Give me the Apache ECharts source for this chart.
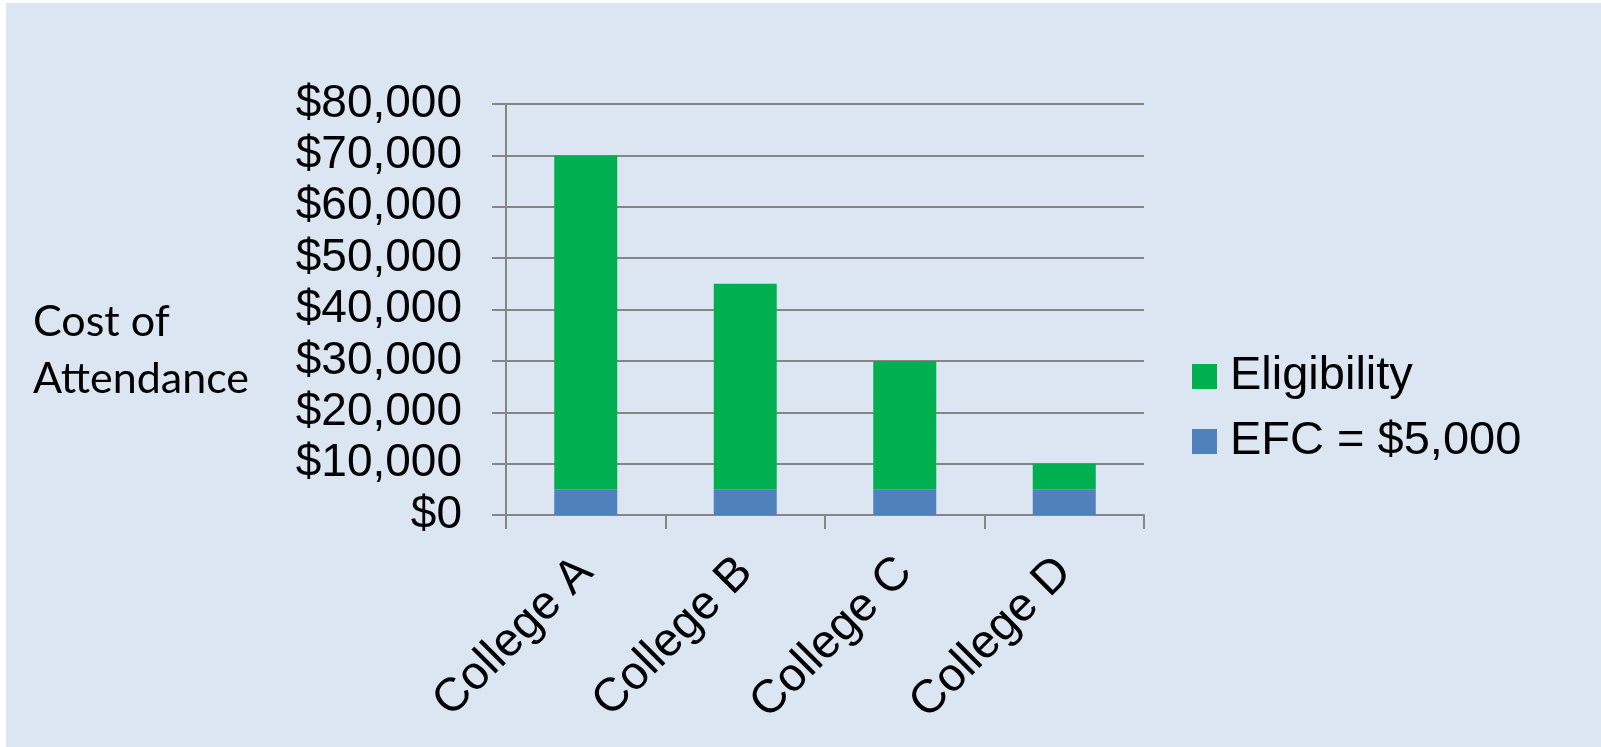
<!DOCTYPE html>
<html>
<head>
<meta charset="utf-8">
<script src="https://cdn.jsdelivr.net/npm/echarts@6/dist/echarts.min.js"></script>
<style>
  html, body { margin: 0; padding: 0; background: #fff; }
  #chart-1 { position: absolute; left: 6px; top: 3px; width: 1595px; height: 744px; }
</style>
</head>
<body>
<div id="chart-1"></div>
<script>
const colleges = ['College A', 'College B', 'College C', 'College D'];
const efc = [5000, 5000, 5000, 5000];
const eligibility = [65000, 40000, 25000, 5000];
const seriesNames = ['EFC = $5,000', 'Eligibility'];

const axisGray = '#868686';
const labelFont = '"Liberation Sans", Arial, sans-serif';

const TheChart = echarts.init(document.getElementById('chart-1'));

TheChart.setOption({
    backgroundColor: '#DCE6F2',
    animation: false,
    grid: {
        left: 500,
        top: 101,
        right: 457,
        bottom: 232,
        containLabel: false,
        outerBoundsMode: 'none'
    },
    legend: {
        data: [seriesNames[1], seriesNames[0]],
        orient: 'vertical',
        left: 1181,
        top: 345,
        icon: 'rect',
        itemWidth: 25,
        itemHeight: 25,
        itemGap: 18,
        textStyle: { fontFamily: labelFont, fontSize: 47, color: '#000', padding: [0, 0, 0, 8] }
    },
    graphic: [{
        type: 'text',
        left: 27,
        top: 291,
        style: {
            text: 'Cost of\nAttendance',
            font: '43px Lato, "Open Sans", sans-serif',
            lineHeight: 57,
            fill: '#000'
        }
    }],
    xAxis: {
        type: 'category',
        data: colleges,
        axisLine: { lineStyle: { color: axisGray, width: 2 } },
        axisTick: { show: true, length: 14, lineStyle: { color: axisGray, width: 2 } },
        axisLabel: {
            rotate: 45,
            margin: 50,
            fontFamily: labelFont,
            fontSize: 47,
            color: '#000'
        }
    },
    yAxis: {
        type: 'value',
        min: 0,
        max: 80000,
        interval: 10000,
        axisLine: { show: true, lineStyle: { color: axisGray, width: 2 } },
        axisTick: { show: true, length: 14, lineStyle: { color: axisGray, width: 2 } },
        splitLine: { lineStyle: { color: axisGray, width: 2 } },
        axisLabel: {
            margin: 44,
            fontFamily: labelFont,
            fontSize: 46,
            color: '#000',
            formatter: v => '$' + v.toLocaleString('en-US')
        }
    },
    series: [{
        name: seriesNames[0],
        type: 'bar',
        stack: 'cost',
        barWidth: 63,
        data: efc,
        itemStyle: { color: '#4F81BD' }
    }, {
        name: seriesNames[1],
        type: 'bar',
        stack: 'cost',
        barWidth: 63,
        data: eligibility,
        itemStyle: { color: '#00B050' }
    }]
});
</script>
</body>
</html>
